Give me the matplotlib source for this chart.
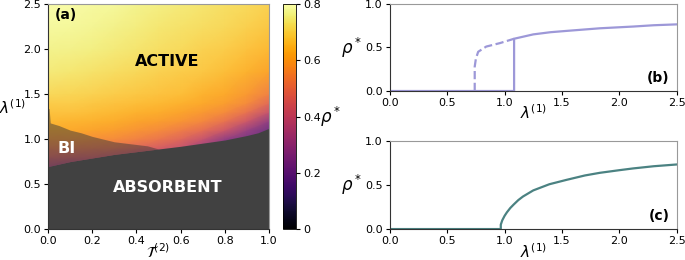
import numpy as np
import matplotlib
matplotlib.use("Agg")
import matplotlib.pyplot as plt
from matplotlib.colors import ListedColormap

# ---- panel (a): rho* of the active branch ----
T_grid = [0.0, 0.1, 0.2, 0.3, 0.4, 0.5, 0.6, 0.7, 0.8, 0.9, 1.0]
lam_grid = [0.6, 0.7, 0.8, 0.9, 1.0, 1.1, 1.2, 1.3, 1.4, 1.5, 1.75, 2.0, 2.25, 2.5]
rho_grid = [
    [0.30, 0.28, 0.25, 0.20, 0.15, 0.15, 0.15, 0.15, 0.15, 0.15, 0.15],
    [0.35, 0.32, 0.30, 0.28, 0.25, 0.25, 0.25, 0.25, 0.20, 0.20, 0.20],
    [0.45, 0.44, 0.43, 0.40, 0.36, 0.33, 0.30, 0.25, 0.20, 0.20, 0.20],
    [0.52, 0.52, 0.51, 0.50, 0.47, 0.44, 0.40, 0.30, 0.22, 0.20, 0.20],
    [0.58, 0.58, 0.57, 0.56, 0.54, 0.51, 0.47, 0.40, 0.28, 0.22, 0.20],
    [0.62, 0.62, 0.61, 0.60, 0.58, 0.56, 0.53, 0.49, 0.42, 0.30, 0.20],
    [0.65, 0.645, 0.64, 0.63, 0.61, 0.60, 0.58, 0.55, 0.50, 0.42, 0.28],
    [0.67, 0.67, 0.66, 0.65, 0.64, 0.63, 0.61, 0.59, 0.56, 0.50, 0.40],
    [0.69, 0.69, 0.68, 0.67, 0.66, 0.65, 0.64, 0.62, 0.60, 0.56, 0.48],
    [0.71, 0.705, 0.70, 0.69, 0.68, 0.67, 0.66, 0.64, 0.62, 0.59, 0.54],
    [0.745, 0.74, 0.73, 0.72, 0.71, 0.70, 0.69, 0.68, 0.66, 0.64, 0.61],
    [0.765, 0.76, 0.755, 0.745, 0.735, 0.725, 0.715, 0.70, 0.69, 0.67, 0.65],
    [0.78, 0.775, 0.77, 0.76, 0.75, 0.74, 0.73, 0.72, 0.71, 0.695, 0.68],
    [0.79, 0.785, 0.78, 0.775, 0.765, 0.755, 0.745, 0.735, 0.725, 0.715, 0.70],
]

# absorbing-state boundary (below it rho* = 0)
T_abs = [0.0, 0.1, 0.2, 0.3, 0.4, 0.5, 0.6, 0.7, 0.8, 0.9, 0.95, 1.0]
lam_abs = [0.695, 0.75, 0.79, 0.83, 0.86, 0.89, 0.92, 0.955, 0.99, 1.04, 1.07, 1.12]

# upper edge of the bistable region
T_bi = [0.0, 0.005, 0.01, 0.05, 0.1, 0.15, 0.2, 0.25, 0.3, 0.35, 0.4, 0.45, 0.5]
lam_bi = [1.34, 1.34, 1.18, 1.15, 1.10, 1.07, 1.03, 1.0, 0.97, 0.955, 0.94, 0.925, 0.89]

# ---- panel (b) ----
lam_b = [0.0, 1.083, 1.083, 1.1, 1.25, 1.4, 1.54, 1.83, 2.12, 2.3, 2.5]
rho_b = [0.0, 0.0, 0.60, 0.605, 0.65, 0.675, 0.69, 0.72, 0.74, 0.755, 0.765]
lam_b_dash = [0.74, 0.74, 0.75, 0.77, 0.84, 0.96, 1.083]
rho_b_dash = [0.0, 0.28, 0.37, 0.45, 0.51, 0.55, 0.60]

# ---- panel (c) ----
lam_c = [0.0, 0.967, 0.967, 0.98, 1.0, 1.02, 1.05, 1.08, 1.12, 1.16, 1.25,
         1.39, 1.54, 1.7, 1.83, 2.0, 2.12, 2.3, 2.5]
rho_c = [0.0, 0.0, 0.05, 0.10, 0.15, 0.19, 0.24, 0.28, 0.33, 0.37, 0.44,
         0.51, 0.56, 0.61, 0.64, 0.67, 0.69, 0.715, 0.735]

# inferno washed slightly toward white, like the translucent heatmap
base = plt.cm.inferno(np.linspace(0, 1, 256))
pale = base.copy()
pale[:, :3] = 0.85 * base[:, :3] + 0.15
pale_cmap = ListedColormap(pale)

fig = plt.figure(figsize=(6.85, 2.6), dpi=100)
ax_a = fig.add_axes([0.0701, 0.119, 0.3226, 0.865])
cax = fig.add_axes([0.413, 0.119, 0.019, 0.865])
ax_b = fig.add_axes([0.569, 0.65, 0.419, 0.335])
ax_c = fig.add_axes([0.569, 0.119, 0.419, 0.338])

tick_fs = 8
for ax in (ax_a, ax_b, ax_c):
    ax.tick_params(labelsize=tick_fs, length=3, width=0.8, pad=2)
    for s in ("left", "bottom"):
        ax.spines[s].set_color("#333333")
    for s in ("top", "right"):
        ax.spines[s].set_color("#999999")

# panel (a)
ax_a.pcolormesh(T_grid, lam_grid, np.array(rho_grid), cmap=pale_cmap,
                vmin=0, vmax=0.8, shading="gouraud")
ax_a.fill_between(T_abs, 0, lam_abs, color="#414141", lw=0)
ax_a.fill_between(T_bi, np.interp(T_bi, T_abs, lam_abs), lam_bi,
                  color="#3a3a3a", alpha=0.5, lw=0)
ax_a.set_xlim(0, 1)
ax_a.set_ylim(0, 2.5)
ax_a.set_xticks([0, 0.2, 0.4, 0.6, 0.8, 1.0])
ax_a.set_yticks([0, 0.5, 1.0, 1.5, 2.0, 2.5])
ax_a.set_xlabel(r"$\mathcal{T}^{(2)}$", fontsize=11, labelpad=-3)
ax_a.set_ylabel(r"$\lambda^{(1)}$", fontsize=11, rotation=0, labelpad=8)
ax_a.text(0.03, 2.38, "(a)", fontsize=10, fontweight="bold", va="center")
ax_a.text(0.54, 1.86, "ACTIVE", fontsize=11.5, fontweight="bold",
          ha="center", va="center", color="black")
ax_a.text(0.54, 0.46, "ABSORBENT", fontsize=11.5, fontweight="bold",
          ha="center", va="center", color="white")
ax_a.text(0.085, 0.9, "BI", fontsize=11.5, fontweight="bold",
          ha="center", va="center", color="white")

sm = plt.cm.ScalarMappable(cmap="inferno", norm=plt.Normalize(0, 0.8))
cb = fig.colorbar(sm, cax=cax)
cb.set_ticks([0, 0.2, 0.4, 0.6, 0.8])
cb.set_ticklabels(["0", "0.2", "0.4", "0.6", "0.8"])
cb.ax.tick_params(labelsize=tick_fs, length=3, width=0.8, pad=2)
cb.outline.set_linewidth(0.6)
cb.set_label(r"$\rho^*$", fontsize=12, rotation=0, labelpad=7, va="center")

# panel (b)
ax_b.plot(lam_b, rho_b, color="#9d98d8", lw=1.6)
ax_b.plot(lam_b_dash, rho_b_dash, color="#9d98d8", lw=1.6, ls="--")
ax_b.text(0.975, 0.07, "(b)", transform=ax_b.transAxes, fontsize=10,
          fontweight="bold", ha="right", va="bottom")

# panel (c)
ax_c.plot(lam_c, rho_c, color="#4b8282", lw=1.6)
ax_c.text(0.975, 0.07, "(c)", transform=ax_c.transAxes, fontsize=10,
          fontweight="bold", ha="right", va="bottom")

for ax in (ax_b, ax_c):
    ax.set_xlim(0, 2.5)
    ax.set_ylim(0, 1)
    ax.set_xticks([0, 0.5, 1.0, 1.5, 2.0, 2.5])
    ax.set_yticks([0, 0.5, 1.0])
    ax.set_xlabel(r"$\lambda^{(1)}$", fontsize=11, labelpad=-3)
    ax.set_ylabel(r"$\rho^*$", fontsize=12, rotation=0, labelpad=10, va="center")

fig.savefig("out.png", dpi=100)
